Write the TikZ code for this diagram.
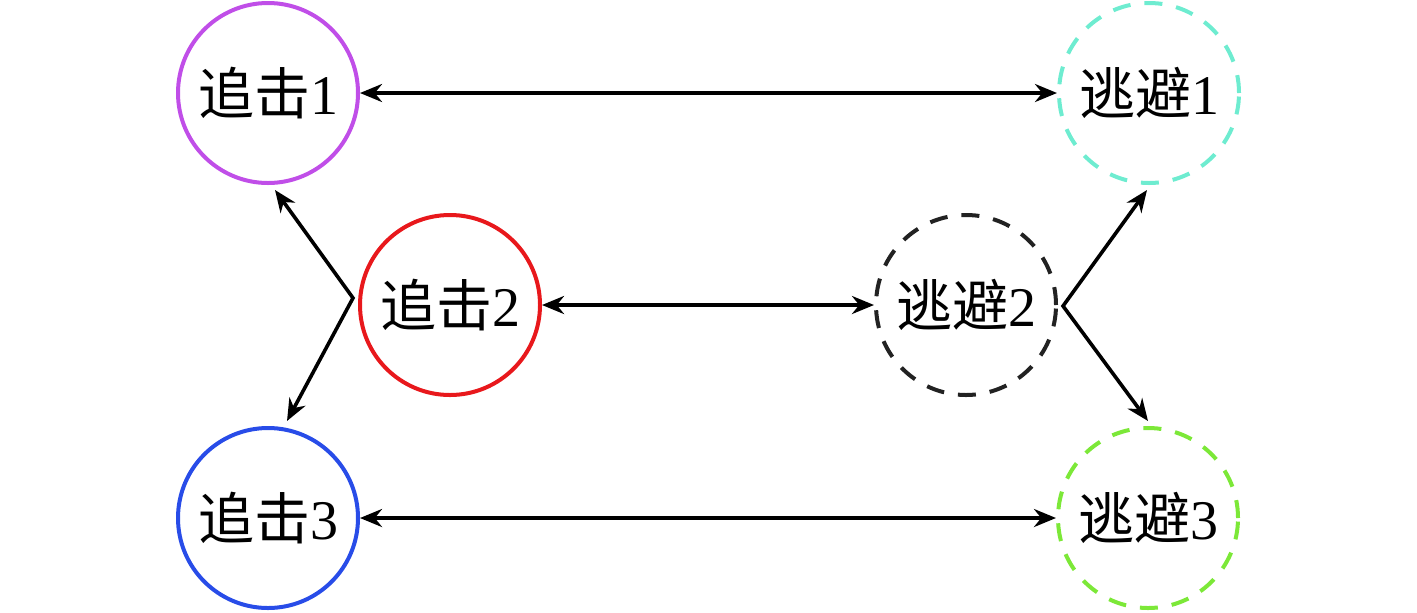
\documentclass[tikz,border=0pt]{standalone}
\usepackage{fontspec}
\setmainfont{Liberation Serif}
\newfontfamily\cjk{Noto Sans CJK SC}
\usetikzlibrary{arrows.meta}
\definecolor{cpurple}{RGB}{192,78,232}
\definecolor{ccyan}{RGB}{110,236,208}
\definecolor{cred}{RGB}{232,24,28}
\definecolor{cblue}{RGB}{40,76,232}
\definecolor{cgreen}{RGB}{124,232,56}
\definecolor{cdark}{RGB}{34,34,34}
\begin{document}
\begin{tikzpicture}[x=0.5pt,y=-0.5pt,
  agent/.style={circle,minimum size=90pt,inner sep=0pt,line width=2pt,font=\fontsize{28}{32}\selectfont},
  evader/.style={agent,dash pattern=on 9pt off 7pt},
  link/.style={line width=1.8pt,{Stealth[length=11pt,width=9pt]}-{Stealth[length=11pt,width=9pt]}}]
\useasboundingbox (0,0) rectangle (1417,612);
\node[agent,draw=cpurple] (p1) at (268,93) {{\cjk 追击}1};
\node[agent,draw=cred] (p2) at (450,305) {{\cjk 追击}2};
\node[agent,draw=cblue] (p3) at (268,518) {{\cjk 追击}3};
\node[evader,draw=ccyan] (e1) at (1149,93) {{\cjk 逃避}1};
\node[evader,draw=cdark] (e2) at (966,305) {{\cjk 逃避}2};
\node[evader,draw=cgreen] (e3) at (1148,518) {{\cjk 逃避}3};
\coordinate (vl) at (353,298);
\coordinate (vr) at (1063,306);
\coordinate (tl1) at (275,190);
\coordinate (tl3) at (287,421);
\coordinate (tr1) at (1147,190);
\coordinate (tr3) at (1148,421);
\draw[link] (p1) -- (e1);
\draw[link] (p2) -- (e2);
\draw[link] (p3) -- (e3);
\draw[link] (tl1) -- (vl) -- (tl3);
\draw[link] (tr1) -- (vr) -- (tr3);
\end{tikzpicture}
\end{document}
